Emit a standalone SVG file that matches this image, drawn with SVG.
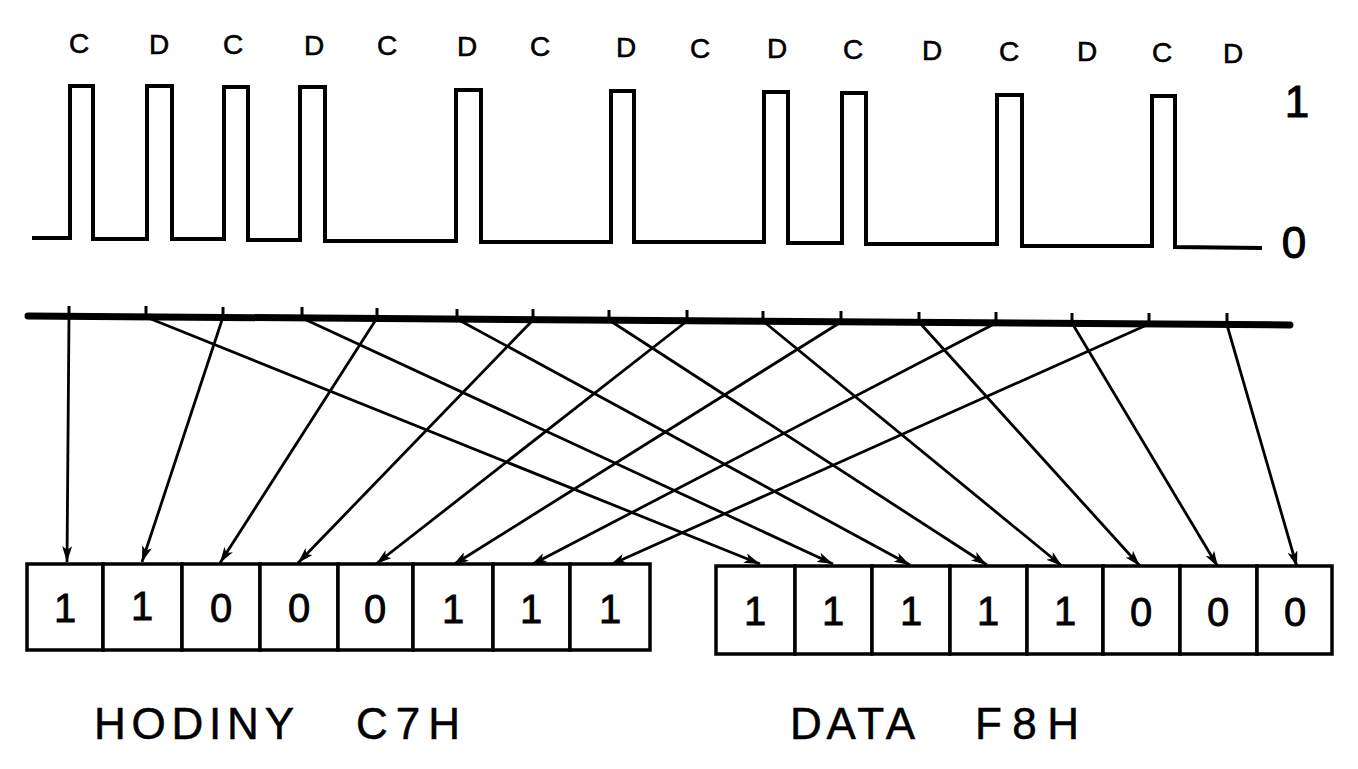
<svg xmlns="http://www.w3.org/2000/svg" width="1358" height="769" viewBox="0 0 1358 769">
<style>
.wave{fill:none;stroke:#000;stroke-width:4;stroke-linejoin:miter}
.bus{stroke:#000;stroke-width:7;stroke-linecap:round}
.tick{stroke:#000;stroke-width:3}
.conn{stroke:#000;stroke-width:2.8;fill:none}
.cell{fill:#fff;stroke:#000;stroke-width:3.5}
.lbl{font-family:"Liberation Sans",Arial,sans-serif;fill:#000}
.cd{font-size:28px;text-anchor:middle;stroke:#000;stroke-width:0.6}
.dig{font-size:40px;text-anchor:middle;stroke:#000;stroke-width:0.8}
.lvl{font-size:44px;text-anchor:middle;stroke:#000;stroke-width:1}
.cap{font-size:44px;stroke:#000;stroke-width:0.5}
</style>
<defs>
<marker id="arr" viewBox="0 0 16 10" refX="16" refY="5" markerWidth="16" markerHeight="10" markerUnits="userSpaceOnUse" orient="auto">
<path d="M0,0 L16,5 L0,10 L4,5 Z" fill="#000"/>
</marker>
</defs>
<rect width="1358" height="769" fill="#fff"/>

<g id="cd-labels" class="lbl cd">
<text x="79" y="53">C</text>
<text x="159" y="54">D</text>
<text x="233" y="54">C</text>
<text x="314" y="55">D</text>
<text x="387" y="55">C</text>
<text x="467" y="56">D</text>
<text x="540" y="56">C</text>
<text x="626" y="57">D</text>
<text x="700" y="58">C</text>
<text x="777" y="58">D</text>
<text x="853" y="59">C</text>
<text x="932" y="60">D</text>
<text x="1009" y="61">C</text>
<text x="1087" y="61">D</text>
<text x="1162" y="62">C</text>
<text x="1233" y="63">D</text>
</g>

<g id="waveform">
<path class="wave" d="M32,238 L70,238 L70,86 L93,86 L93,239 L147,239 L147,86 L172,86 L172,239 L224,239 L224,87 L248,87 L248,240 L300,240 L300,87 L325,87 L325,241 L456,241 L456,90 L481,90 L481,242 L611,242 L611,91 L634,91 L634,242 L764,242 L764,92 L788,92 L788,243 L842,243 L842,93 L866,93 L866,244 L997,244 L997,95 L1022,95 L1022,246 L1152,246 L1152,96 L1175,96 L1175,247 L1262,248"/>
<text class="lbl lvl" x="1297" y="117">1</text>
<text class="lbl lvl" x="1294" y="258">0</text>
</g>

<g id="bus">
<line class="bus" x1="28" y1="316" x2="1290" y2="325"/>
<line class="tick" x1="69" y1="306" x2="69" y2="316"/>
<line class="tick" x1="146" y1="306" x2="146" y2="317"/>
<line class="tick" x1="223" y1="307" x2="223" y2="317"/>
<line class="tick" x1="302" y1="307" x2="302" y2="318"/>
<line class="tick" x1="377" y1="308" x2="377" y2="318"/>
<line class="tick" x1="457" y1="309" x2="457" y2="319"/>
<line class="tick" x1="533" y1="309" x2="533" y2="320"/>
<line class="tick" x1="609" y1="310" x2="609" y2="320"/>
<line class="tick" x1="687" y1="310" x2="687" y2="321"/>
<line class="tick" x1="763" y1="311" x2="763" y2="321"/>
<line class="tick" x1="841" y1="311" x2="841" y2="322"/>
<line class="tick" x1="919" y1="312" x2="919" y2="322"/>
<line class="tick" x1="996" y1="312" x2="996" y2="323"/>
<line class="tick" x1="1072" y1="313" x2="1072" y2="323"/>
<line class="tick" x1="1149" y1="313" x2="1149" y2="324"/>
<line class="tick" x1="1227" y1="313" x2="1227" y2="325"/>
</g>

<g id="connectors" class="conn">
<line x1="69" y1="316" x2="67" y2="562" marker-end="url(#arr)"/>
<line x1="223" y1="317" x2="142" y2="562" marker-end="url(#arr)"/>
<line x1="377" y1="318" x2="220" y2="563" marker-end="url(#arr)"/>
<line x1="533" y1="320" x2="298" y2="563" marker-end="url(#arr)"/>
<line x1="687" y1="321" x2="376" y2="564" marker-end="url(#arr)"/>
<line x1="841" y1="322" x2="453" y2="565" marker-end="url(#arr)"/>
<line x1="996" y1="323" x2="531" y2="565" marker-end="url(#arr)"/>
<line x1="1149" y1="324" x2="610" y2="565" marker-end="url(#arr)"/>
<line x1="146" y1="317" x2="760" y2="564" marker-end="url(#arr)"/>
<line x1="302" y1="318" x2="833" y2="564" marker-end="url(#arr)"/>
<line x1="457" y1="319" x2="910" y2="565" marker-end="url(#arr)"/>
<line x1="609" y1="320" x2="987" y2="565" marker-end="url(#arr)"/>
<line x1="763" y1="321" x2="1062" y2="566" marker-end="url(#arr)"/>
<line x1="919" y1="322" x2="1140" y2="566" marker-end="url(#arr)"/>
<line x1="1072" y1="323" x2="1218" y2="567" marker-end="url(#arr)"/>
<line x1="1227" y1="325" x2="1297" y2="567" marker-end="url(#arr)"/>
</g>

<g id="clock-reg">
<g id="c1"><rect class="cell" x="27" y="564" width="76" height="86"/><text class="lbl dig" x="65" y="622">1</text></g>
<g id="c2"><rect class="cell" x="103" y="564" width="79" height="86"/><text class="lbl dig" x="142" y="620">1</text></g>
<g id="c3"><rect class="cell" x="182" y="564" width="78" height="86"/><text class="lbl dig" x="221" y="622">0</text></g>
<g id="c4"><rect class="cell" x="260" y="564" width="78" height="86"/><text class="lbl dig" x="299" y="622">0</text></g>
<g id="c5"><rect class="cell" x="338" y="564" width="75" height="86"/><text class="lbl dig" x="375" y="623">0</text></g>
<g id="c6"><rect class="cell" x="413" y="564" width="80" height="86"/><text class="lbl dig" x="453" y="623">1</text></g>
<g id="c7"><rect class="cell" x="493" y="564" width="77" height="86"/><text class="lbl dig" x="531" y="623">1</text></g>
<g id="c8"><rect class="cell" x="570" y="564" width="80" height="86"/><text class="lbl dig" x="610" y="623">1</text></g>
</g>

<g id="data-reg">
<g id="d1"><rect class="cell" x="716" y="566" width="79" height="88"/><text class="lbl dig" x="755" y="625">1</text></g>
<g id="d2"><rect class="cell" x="795" y="566" width="77" height="88"/><text class="lbl dig" x="833" y="625">1</text></g>
<g id="d3"><rect class="cell" x="872" y="566" width="78" height="88"/><text class="lbl dig" x="911" y="625">1</text></g>
<g id="d4"><rect class="cell" x="950" y="566" width="77" height="88"/><text class="lbl dig" x="988" y="625">1</text></g>
<g id="d5"><rect class="cell" x="1027" y="566" width="76" height="88"/><text class="lbl dig" x="1065" y="625">1</text></g>
<g id="d6"><rect class="cell" x="1103" y="566" width="77" height="88"/><text class="lbl dig" x="1141" y="626">0</text></g>
<g id="d7"><rect class="cell" x="1180" y="566" width="77" height="88"/><text class="lbl dig" x="1218" y="626">0</text></g>
<g id="d8"><rect class="cell" x="1257" y="566" width="75" height="88"/><text class="lbl dig" x="1295" y="626">0</text></g>
</g>

<g id="captions" class="lbl cap">
<text x="94" y="739" textLength="200" lengthAdjust="spacing">HODINY</text>
<text x="356" y="739" textLength="104" lengthAdjust="spacing">C7H</text>
<text x="790" y="739" textLength="125" lengthAdjust="spacing">DATA</text>
<text x="975" y="739" textLength="104" lengthAdjust="spacing">F8H</text>
</g>
</svg>
